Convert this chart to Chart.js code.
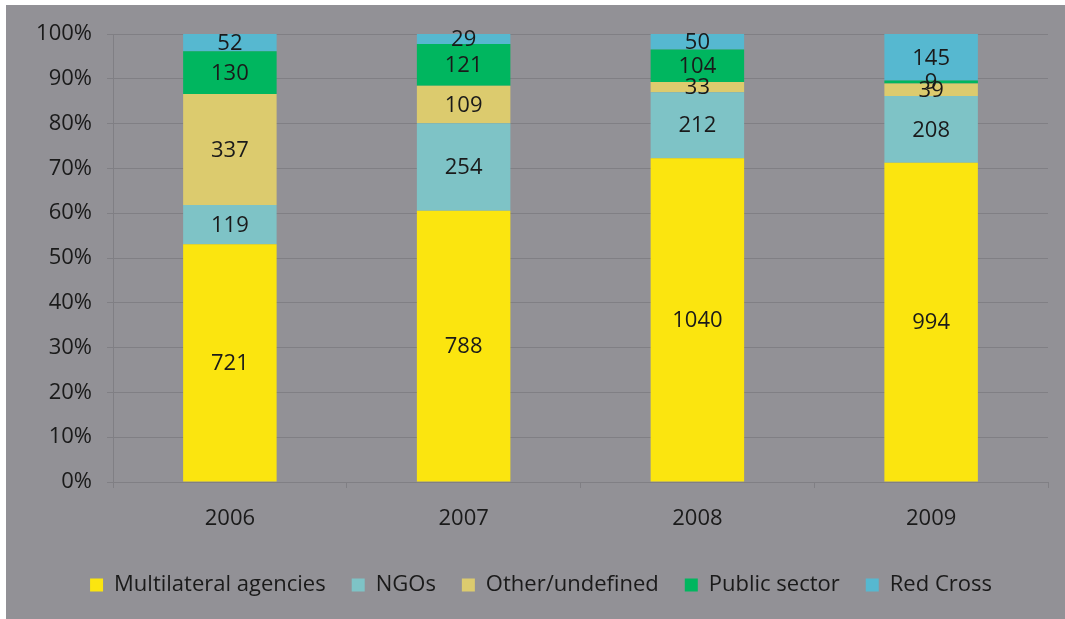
<!DOCTYPE html>
<html>
<head>
<meta charset="utf-8">
<script src="https://cdn.jsdelivr.net/npm/chart.js@4/dist/chart.umd.min.js"></script>
<style>
  html, body { margin: 0; padding: 0; background: #ffffff; }
  #panel { position: absolute; left: 6px; top: 5px; width: 1059px; height: 614px; background: #929196; }
</style>
</head>
<body>
<div id="panel"><canvas id="chart"></canvas></div>
<script>
const years = ["2006", "2007", "2008", "2009"];
const multilateral = [721, 788, 1040, 994];
const ngos = [119, 254, 212, 208];
const otherUndefined = [337, 109, 33, 39];
const publicSector = [130, 121, 104, 9];
const redCross = [52, 29, 50, 145];
const yTicks = ["0%", "10%", "20%", "30%", "40%", "50%", "60%", "70%", "80%", "90%", "100%"];

const series = [
  { label: "Multilateral agencies", values: multilateral, color: "#fbe50f" },
  { label: "NGOs", values: ngos, color: "#7ec3c6" },
  { label: "Other/undefined", values: otherUndefined, color: "#dccb6e" },
  { label: "Public sector", values: publicSector, color: "#00b65f" },
  { label: "Red Cross", values: redCross, color: "#56b8d0" }
];

const totals = years.map((_, i) => series.reduce((s, d) => s + d.values[i], 0));

const FONT = "'Open Sans', sans-serif";
const TEXT = "#1a1a1a";
const GRID = "#807f84";

// draws the raw counts in the middle of each segment
const segmentLabels = {
  id: "segmentLabels",
  afterDatasetsDraw(chart) {
    const ctx = chart.ctx;
    ctx.save();
    ctx.font = "22px " + FONT;
    ctx.fillStyle = TEXT;
    ctx.textAlign = "center";
    ctx.textBaseline = "middle";
    chart.data.datasets.forEach((ds, di) => {
      chart.getDatasetMeta(di).data.forEach((bar, i) => {
        const mid = (bar.y + bar.base) / 2 + 1;
        ctx.fillText(String(ds.raw[i]), bar.x, mid);
      });
    });
    ctx.restore();
  }
};

new Chart(document.getElementById("chart"), {
  type: "bar",
  data: {
    labels: years,
    datasets: series.map(s => ({
      label: s.label,
      raw: s.values,
      data: s.values.map((v, i) => v / totals[i]),
      backgroundColor: s.color,
      borderWidth: 0,
      categoryPercentage: 1,
      barPercentage: 0.4
    }))
  },
  options: {
    responsive: true,
    maintainAspectRatio: false,
    animation: false,
    layout: { padding: { top: 29, right: 17, bottom: 13, left: 28 } },
    plugins: {
      tooltip: { enabled: false },
      legend: {
        position: "bottom",
        labels: {
          font: { family: FONT, size: 22 },
          color: TEXT,
          boxWidth: 13,
          boxHeight: 13,
          padding: 26
        }
      }
    },
    scales: {
      x: {
        stacked: true,
        grid: { offset: true, drawOnChartArea: false, color: GRID, tickLength: 6, lineWidth: 1 },
        border: { color: GRID },
        ticks: { font: { family: FONT, size: 22 }, color: TEXT, padding: 18 },
        afterFit(scale) { scale.height = 66; }
      },
      y: {
        stacked: true,
        min: 0,
        max: 1,
        grid: { color: GRID, tickLength: 6, lineWidth: 1 },
        border: { color: GRID },
        ticks: {
          stepSize: 0.1,
          font: { family: FONT, size: 22 },
          color: TEXT,
          padding: 15,
          callback: (v, i) => yTicks[i]
        },
        afterFit(scale) { scale.width = 79; }
      }
    }
  },
  plugins: [segmentLabels]
});
</script>
</body>
</html>
